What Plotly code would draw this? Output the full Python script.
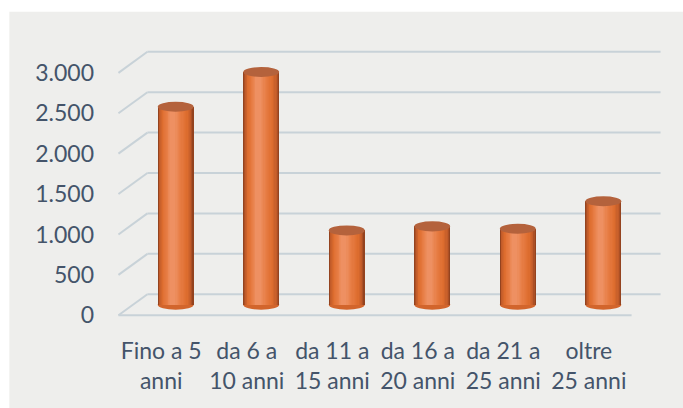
import plotly.graph_objects as go

# ---- data ----
categories = ["Fino a 5<br>anni", "da 6 a<br>10 anni", "da 11 a<br>15 anni",
              "da 16 a<br>20 anni", "da 21 a<br>25 anni", "oltre<br>25 anni"]
values = [2450, 2880, 920, 970, 940, 1280]
tick_values = [0, 500, 1000, 1500, 2000, 2500, 3000]
tick_labels = ["0", "500", "1.000", "1.500", "2.000", "2.500", "3.000"]

# ---- geometry / style ----
W, H = 683, 408
U = 85.6          # px per category
X0 = 175.5        # px of first category centre (mid depth)
K = 0.08067       # px per value unit
Y0 = 304.5        # px of value 0 (mid depth)
XMIN, XMAX = -0.85, 5.85
YMIN, YMAX = -300, 3400
DX = 14.5 / U     # half depth offset in category units
DY = 10.5 / K     # half depth offset in value units
RY = 5.0 / K      # ellipse half height in value units
BW = 0.42         # bar width (category units)

L = X0 + XMIN * U
R = W - (X0 + XMAX * U)
T = Y0 - YMAX * K
B = H - (Y0 - YMIN * K)
PW = W - L - R
PH = H - T - B

GRID = "#c8d2d8"
TEXT = "#44546a"
FONT = "Lato, Carlito, Calibri, sans-serif"

n = len(categories)
xs = list(range(n))


def hex2rgb(h):
    h = h.lstrip("#")
    return [int(h[i:i + 2], 16) for i in (0, 2, 4)]


def ramp(stops, f):
    for (f0, c0), (f1, c1) in zip(stops, stops[1:]):
        if f <= f1:
            t = (f - f0) / (f1 - f0) if f1 > f0 else 0
            a, b = hex2rgb(c0), hex2rgb(c1)
            return "rgb(%d,%d,%d)" % tuple(round(a[k] + (b[k] - a[k]) * t) for k in range(3))
    return stops[-1][1]


STOPS = [(0.0, "#94431f"), (0.12, "#c05a29"), (0.35, "#de6d2e"), (0.7, "#e77d44"), (1.0, "#ee9062")]
NL = 16
HC = 0.40  # highlight position across the bar (0 = left, 1 = right)

fig = go.Figure()
for j in range(NL):
    f = j / (NL - 1)
    a = f * HC * 0.85
    b = 1 - f * (1 - HC) * 0.85
    w = (b - a) * BW
    fig.add_trace(go.Bar(
        x=xs, y=values, width=w, offset=-BW / 2 + a * BW,
        marker=dict(color=ramp(STOPS, f), line=dict(width=0)),
        hoverinfo="skip", showlegend=False,
    ))

shapes = []
# background panel
shapes.append(dict(
    type="rect", xref="paper", yref="paper", layer="below",
    x0=(9 - L) / PW, x1=(W - L) / PW + 0.01,
    y0=(H - B - H) / PH - 0.01, y1=(H - B - 12) / PH,
    fillcolor="#eeeeec", line=dict(width=0),
))
# back-wall gridlines and left diagonals
for v in tick_values:
    shapes.append(dict(type="line", xref="x", yref="y", layer="below",
                       x0=-0.5 + DX, x1=n - 0.5 + DX, y0=v + DY, y1=v + DY,
                       line=dict(color=GRID, width=2)))
    shapes.append(dict(type="line", xref="x", yref="y", layer="below",
                       x0=-0.5 - DX, x1=-0.5 + DX, y0=v - DY, y1=v + DY,
                       line=dict(color=GRID, width=2)))
# floor front edge
shapes.append(dict(type="line", xref="x", yref="y", layer="below",
                   x0=-0.5 - DX, x1=n - 0.5 - DX, y0=-DY, y1=-DY,
                   line=dict(color=GRID, width=2)))
# bottom ellipses (below bars) and top ellipses (above)
for i, v in zip(xs, values):
    shapes.append(dict(type="circle", xref="x", yref="y", layer="below",
                       x0=i - BW / 2, x1=i + BW / 2, y0=-RY, y1=RY,
                       fillcolor="#d2652c", line=dict(width=0)))
    shapes.append(dict(type="circle", xref="x", yref="y", layer="above",
                       x0=i - BW / 2, x1=i + BW / 2, y0=v - RY, y1=v + RY,
                       fillcolor="#b4623c", line=dict(width=0)))

fig.update_layout(
    width=W, height=H,
    margin=dict(l=L, r=R, t=T, b=B, pad=0),
    paper_bgcolor="white", plot_bgcolor="rgba(0,0,0,0)",
    barmode="overlay", bargap=0,
    shapes=shapes,
    hovermode=False,
    font=dict(family=FONT, size=23, color=TEXT),
    xaxis=dict(range=[XMIN, XMAX], tickvals=[i - DX for i in xs], ticktext=categories,
               showgrid=False, zeroline=False, showline=False, ticks="",
               automargin=False, ticklabelstandoff=6, fixedrange=True),
    yaxis=dict(range=[YMIN, YMAX], tickvals=[v - DY for v in tick_values], ticktext=tick_labels,
               showgrid=False, zeroline=False, showline=False, ticks="",
               automargin=False, ticklabelstandoff=8, fixedrange=True),
)

fig.write_html(
    "out.html",
    config={"displayModeBar": False, "staticPlot": True},
    post_script="document.body.style.margin='0';document.body.style.overflow='hidden';",
)
